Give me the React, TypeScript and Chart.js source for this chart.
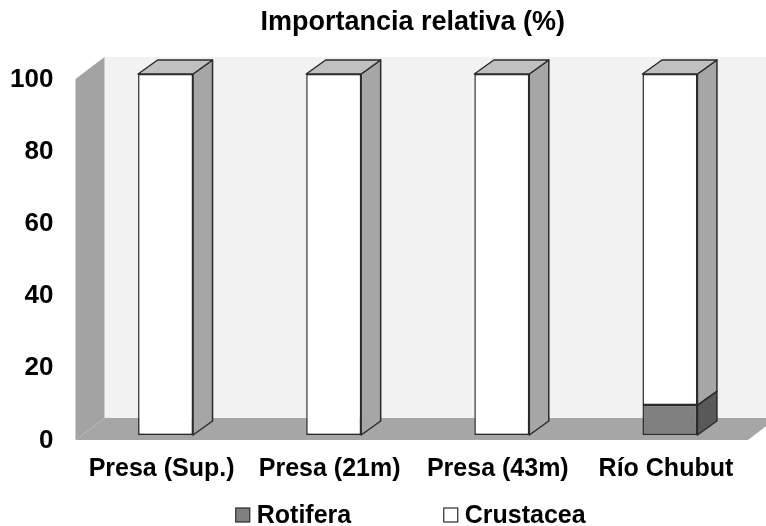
import { useEffect, useRef } from "react";
import { Chart, registerables } from "chart.js";

Chart.register(...registerables);

// Sampling sites and relative importance (%) of each zooplankton group
const categories = ["Presa (Sup.)", "Presa (21m)", "Presa (43m)", "Río Chubut"];
const rotifera = [0, 0, 0, 8.3];
const crustacea = [100, 100, 100, 91.7];
const yTicks = [0, 20, 40, 60, 80, 100];
const titleText = "Importancia relativa (%)";
const seriesNames = ["Rotifera", "Crustacea"];

const FONT = "'Liberation Sans', Arial, sans-serif";
const W = 766;
const H = 526;

// Perspective offsets of the pseudo-3D box and the bar prisms
const WALL_FRONT = { dx: -6, dy: 5 };
const WALL_BACK = { dx: 23, dy: -17 };
const BAR_DEPTH = { dx: 19.5, dy: -14 };

const FRONT_COLORS = ["#808080", "#ffffff"];
const SIDE_COLORS = ["#595959", "#a6a6a6"];
const TOP_COLORS = ["#6e6e6e", "#c0c0c0"];
const EDGE = "#2b2b2b";

function poly(ctx: CanvasRenderingContext2D, pts: number[][], fill: string, stroke?: string) {
  ctx.beginPath();
  ctx.moveTo(pts[0][0], pts[0][1]);
  for (let i = 1; i < pts.length; i++) ctx.lineTo(pts[i][0], pts[i][1]);
  ctx.closePath();
  ctx.fillStyle = fill;
  ctx.fill();
  if (stroke) {
    ctx.strokeStyle = stroke;
    ctx.stroke();
  }
}

// Back wall, side wall and floor of the 3D plot box
const wallsPlugin = {
  id: "walls3d",
  beforeDraw(chart: any) {
    const { ctx, chartArea } = chart;
    const { left, right, top, bottom } = chartArea;
    ctx.save();
    ctx.fillStyle = "#ffffff";
    ctx.fillRect(0, 0, chart.width, chart.height);
    // back wall
    ctx.fillStyle = "#f2f2f2";
    ctx.fillRect(left + WALL_BACK.dx, top + WALL_BACK.dy, chart.width, bottom - top);
    // left wall
    poly(ctx, [
      [left + WALL_FRONT.dx, top + WALL_FRONT.dy],
      [left + WALL_BACK.dx, top + WALL_BACK.dy],
      [left + WALL_BACK.dx, bottom + WALL_BACK.dy],
      [left + WALL_FRONT.dx, bottom + WALL_FRONT.dy],
    ], "#a3a3a3");
    // floor
    poly(ctx, [
      [left + WALL_FRONT.dx, bottom + WALL_FRONT.dy],
      [left + WALL_BACK.dx, bottom + WALL_BACK.dy],
      [right + WALL_BACK.dx, bottom + WALL_BACK.dy],
      [right + WALL_FRONT.dx, bottom + WALL_FRONT.dy],
    ], "#a6a6a6");
    ctx.restore();
  },
};

// Side and top faces of every bar segment
const prismPlugin = {
  id: "prism3d",
  afterDatasetsDraw(chart: any) {
    const { ctx } = chart;
    const sets = chart.data.datasets;
    ctx.save();
    ctx.lineWidth = 1.5;
    ctx.lineJoin = "round";
    sets.forEach((ds: any, di: number) => {
      const meta = chart.getDatasetMeta(di);
      meta.data.forEach((el: any, i: number) => {
        const { x, y, base, width } = el.getProps(["x", "y", "base", "width"], true);
        if (Math.abs(base - y) < 0.5) return;
        const xl = x - width / 2;
        const xr = x + width / 2;
        const { dx, dy } = BAR_DEPTH;
        poly(ctx, [[xr, y], [xr + dx, y + dy], [xr + dx, base + dy], [xr, base]], SIDE_COLORS[di], EDGE);
        const above = sets.slice(di + 1).some((d: any) => (d.data[i] || 0) > 0);
        if (!above) {
          poly(ctx, [[xl, y], [xl + dx, y + dy], [xr + dx, y + dy], [xr, y]], TOP_COLORS[di], EDGE);
        }
      });
    });
    ctx.restore();
  },
};

// Title above the plot and legend below the category labels
const textPlugin = {
  id: "titleLegend",
  afterDraw(chart: any) {
    const { ctx, chartArea } = chart;
    const cx = (chartArea.left + chartArea.right) / 2;
    ctx.save();
    ctx.fillStyle = "#000";
    ctx.textBaseline = "middle";
    ctx.textAlign = "center";
    ctx.font = `bold 27px ${FONT}`;
    ctx.fillText(titleText, cx - 5, 23);

    ctx.font = `bold 25px ${FONT}`;
    ctx.textAlign = "left";
    const legendY = 515;
    const itemX = [cx - 182, cx + 26];
    seriesNames.forEach((name, k) => {
      const bx = itemX[k];
      ctx.fillStyle = FRONT_COLORS[k];
      ctx.fillRect(bx, legendY - 7, 14, 14);
      ctx.strokeStyle = EDGE;
      ctx.lineWidth = 1.2;
      ctx.strokeRect(bx, legendY - 7, 14, 14);
      ctx.fillStyle = "#000";
      ctx.fillText(name, bx + 21, legendY + 1);
    });
    ctx.restore();
  },
};

export default function App() {
  const ref = useRef<HTMLCanvasElement | null>(null);

  useEffect(() => {
    document.body.style.margin = "0";
    const canvas = ref.current;
    if (!canvas) return;
    const chart = new Chart(canvas, {
      type: "bar",
      data: {
        labels: categories,
        datasets: [
          {
            label: seriesNames[0],
            data: rotifera,
            backgroundColor: FRONT_COLORS[0],
            borderColor: EDGE,
            borderWidth: 1.5,
            borderSkipped: false,
            barPercentage: 0.327,
            categoryPercentage: 1,
          },
          {
            label: seriesNames[1],
            data: crustacea,
            backgroundColor: FRONT_COLORS[1],
            borderColor: EDGE,
            borderWidth: 1.5,
            borderSkipped: false,
            barPercentage: 0.327,
            categoryPercentage: 1,
          },
        ],
      },
      options: {
        responsive: false,
        animation: false,
        devicePixelRatio: 1,
        layout: { padding: { top: 74, bottom: 41, left: 0, right: 12 } },
        plugins: {
          legend: { display: false },
          title: { display: false },
          tooltip: { enabled: false },
        },
        scales: {
          x: {
            stacked: true,
            grid: { display: false, drawTicks: false },
            border: { display: false },
            ticks: {
              color: "#000",
              font: { family: FONT, size: 25, weight: "bold" },
              padding: 19,
              labelOffset: -4,
              maxRotation: 0,
              autoSkip: false,
            },
            afterFit: (s: any) => {
              s.height = 50;
            },
          },
          y: {
            stacked: true,
            min: 0,
            max: 100,
            afterBuildTicks: (s: any) => {
              s.ticks = yTicks.map((v) => ({ value: v }));
            },
            grid: { display: false, drawTicks: false },
            border: { display: false },
            ticks: {
              color: "#000",
              font: { family: FONT, size: 26, weight: "bold" },
              padding: 28,
              labelOffset: 5.5,
            },
            afterFit: (s: any) => {
              s.width = 81.5;
            },
          },
        },
      },
      plugins: [wallsPlugin, prismPlugin, textPlugin],
    } as any);
    return () => chart.destroy();
  }, []);

  return (
    <div style={{ position: "absolute", left: 0, top: 0, width: W, height: H }}>
      <canvas ref={ref} width={W} height={H} />
    </div>
  );
}
